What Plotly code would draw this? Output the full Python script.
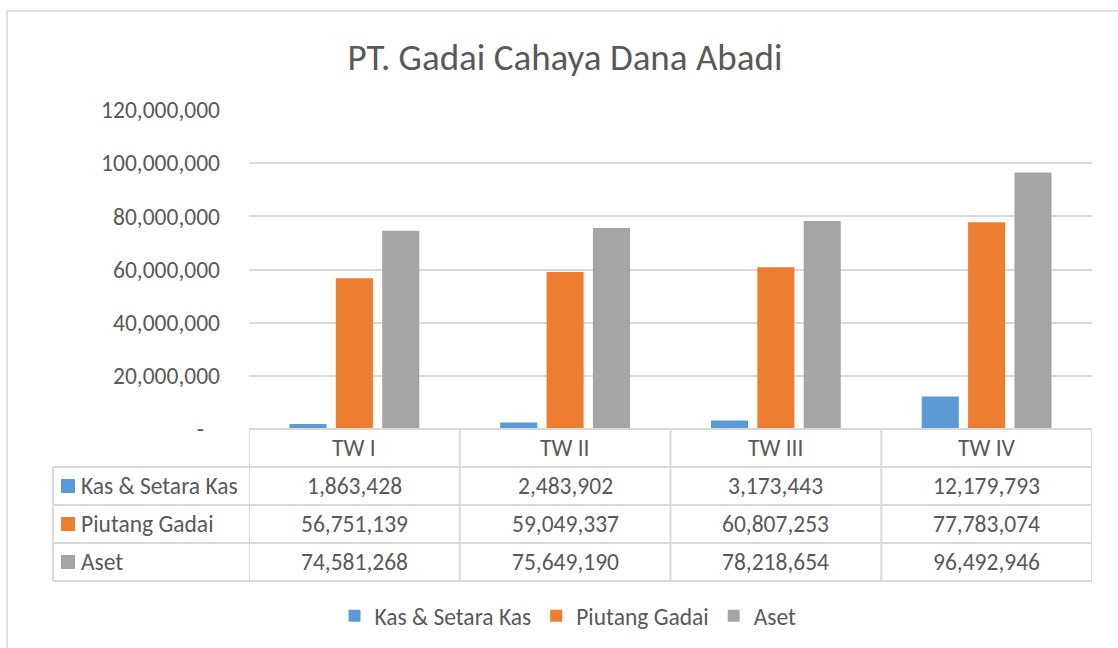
import plotly.graph_objects as go

categories = ["TW I", "TW II", "TW III", "TW IV"]
series_names = ["Kas & Setara Kas", "Piutang Gadai", "Aset"]
kas = [1863428, 2483902, 3173443, 12179793]
piutang = [56751139, 59049337, 60807253, 77783074]
aset = [74581268, 75649190, 78218654, 96492946]
colors = ["#5b9bd5", "#ed7d31", "#a5a5a5"]
tick_vals = [0, 20000000, 40000000, 60000000, 80000000, 100000000, 120000000]
tick_text = ["-   ", "20,000,000", "40,000,000", "60,000,000", "80,000,000", "100,000,000", "120,000,000"]

FONT = "Calibri, Carlito, Lato, sans-serif"
TXT = "#595959"
GRID = "#d9d9d9"
FS = 23.5

W, H = 1118, 648
L, R, T, B = 249, 26, 110, 219
PH = H - T - B  # plot height px
PW = W - L - R

def py(pix):  # pixel y -> paper y
    return (H - B - pix) / PH

def px(pix):  # pixel x -> paper x
    return (pix - L) / PW

fig = go.Figure()
for name, vals, c in zip(series_names, [kas, piutang, aset], colors):
    fig.add_trace(go.Bar(x=categories, y=vals, name=name, marker_color=c,
                         marker_line_width=0, hoverinfo="skip"))

shapes = []
annotations = []
# outer chart border
shapes.append(dict(type="rect", xref="paper", yref="paper", x0=px(7), x1=px(1125),
                   y0=py(660), y1=py(11), line=dict(color=GRID, width=1.5), layer="below"))
# table horizontal lines
row_y = [429, 467, 505, 543, 581]
shapes.append(dict(type="line", xref="paper", yref="paper", x0=0, x1=1, y0=py(429), y1=py(429),
                   line=dict(color=GRID, width=2)))
for yy in row_y[1:]:
    shapes.append(dict(type="line", xref="paper", yref="paper", x0=px(53), x1=1, y0=py(yy), y1=py(yy),
                       line=dict(color=GRID, width=2)))
# table vertical lines
shapes.append(dict(type="line", xref="paper", yref="paper", x0=px(53), x1=px(53), y0=py(467), y1=py(581),
                   line=dict(color=GRID, width=2)))
for i in range(len(categories) + 1):
    shapes.append(dict(type="line", xref="x", yref="paper", x0=i - 0.5, x1=i - 0.5, y0=py(429), y1=py(581),
                       line=dict(color=GRID, width=2)))

# header
for i, cat in enumerate(categories):
    annotations.append(dict(x=i, y=py(448), xref="x", yref="paper", text=cat, showarrow=False,
                            xanchor="center", yanchor="middle",
                            font=dict(family=FONT, size=FS, color=TXT)))
# rows
row_centers = [486, 524, 562]
for r, (name, vals, c) in enumerate(zip(series_names, [kas, piutang, aset], colors)):
    yc = row_centers[r]
    shapes.append(dict(type="rect", xref="paper", yref="paper", x0=px(61), x1=px(75),
                       y0=py(yc + 7), y1=py(yc - 7), fillcolor=c, line=dict(width=0)))
    annotations.append(dict(x=px(79), y=py(yc), xref="paper", yref="paper", text=name, showarrow=False,
                            xanchor="left", yanchor="middle",
                            font=dict(family=FONT, size=FS, color=TXT)))
    for i, v in enumerate(vals):
        annotations.append(dict(x=i, y=py(yc), xref="x", yref="paper", text=f"{v:,}", showarrow=False,
                                xanchor="center", yanchor="middle",
                                font=dict(family=FONT, size=FS, color=TXT)))

fig.update_layout(
    width=W, height=H,
    margin=dict(l=L, r=R, t=T, b=B, autoexpand=False),
    paper_bgcolor="white", plot_bgcolor="white",
    title=dict(text="PT. Gadai Cahaya Dana Abadi", x=565 / W, xref="container", xanchor="center",
               y=1 - 57 / H, yref="container", yanchor="middle",
               font=dict(family=FONT, size=37, color=TXT)),
    barmode="group", bargap=0.34, bargroupgap=0.2,
    showlegend=True,
    legend=dict(orientation="h", xref="paper", x=px(568), xanchor="center", yref="paper", y=py(616),
                yanchor="middle", font=dict(family=FONT, size=FS, color=TXT), itemwidth=30,
                traceorder="normal"),
    xaxis=dict(range=[-0.5, 3.5], showticklabels=False, showgrid=False, zeroline=False,
               showline=False, ticks=""),
    yaxis=dict(range=[0, 120000000], tickvals=tick_vals, ticktext=tick_text, showgrid=True,
               gridcolor=GRID, gridwidth=1.5, zeroline=False, showline=False, ticks="",
               ticklabelstandoff=28, tickfont=dict(family=FONT, size=FS, color=TXT)),
    shapes=shapes, annotations=annotations,
)

fig.write_html("out.html")
